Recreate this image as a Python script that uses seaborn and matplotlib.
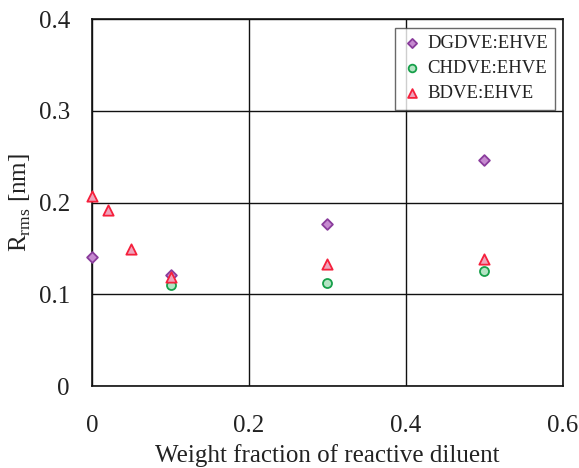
import matplotlib
matplotlib.use("Agg")
import matplotlib.pyplot as plt
import seaborn as sns
import pandas as pd

# Data
dg_x = [0.0, 0.1, 0.3, 0.5]
dg_y = [0.141, 0.121, 0.177, 0.246]
ch_x = [0.1, 0.3, 0.5]
ch_y = [0.110, 0.112, 0.125]
bd_x = [0.0, 0.02, 0.05, 0.1, 0.3, 0.5]
bd_y = [0.207, 0.192, 0.149, 0.119, 0.133, 0.139]
series_names = ["DGDVE:EHVE", "CHDVE:EHVE", "BDVE:EHVE"]
x_ticks = [0, 0.2, 0.4, 0.6]
x_tick_labels = ["0", "0.2", "0.4", "0.6"]
y_ticks = [0, 0.1, 0.2, 0.3, 0.4]
y_tick_labels = ["0", "0.1", "0.2", "0.3", "0.4"]

df = pd.concat([
    pd.DataFrame({"x": dg_x, "y": dg_y, "s": series_names[0]}),
    pd.DataFrame({"x": ch_x, "y": ch_y, "s": series_names[1]}),
    pd.DataFrame({"x": bd_x, "y": bd_y, "s": series_names[2]}),
])

sns.set_style("white")
plt.rcParams['font.family'] = ['Liberation Serif', 'DejaVu Serif']
plt.rcParams['mathtext.fontset'] = 'custom'
plt.rcParams['mathtext.rm'] = 'Liberation Serif'

fig = plt.figure(figsize=(5.79, 4.68), dpi=100)
ax = fig.add_axes([0.159, 0.175, 0.813, 0.784])

edge = {series_names[0]: "#8a3c9c", series_names[1]: "#17a04a", series_names[2]: "#f5203c"}
face = {series_names[0]: "#c68ad0", series_names[1]: "#b4e4c4", series_names[2]: "#eea4bc"}
marks = {series_names[0]: "D", series_names[1]: "o", series_names[2]: "^"}
sizes = {series_names[0]: 30, series_names[1]: 42, series_names[2]: 55}

for name in series_names:
    sub = df[df["s"] == name]
    sns.scatterplot(data=sub, x="x", y="y", ax=ax, marker=marks[name],
                    s=sizes[name], color=face[name], edgecolor=edge[name],
                    linewidth=1.3, label=name, zorder=3, clip_on=False)

ax.set_xlim(0, 0.6)
ax.set_ylim(0, 0.4)
ax.set_xticks(x_ticks)
ax.set_xticklabels(x_tick_labels)
ax.set_yticks(y_ticks)
ax.set_yticklabels(y_tick_labels)
ax.tick_params(axis='x', length=0, pad=21, labelsize=18, colors='#222222')
ax.tick_params(axis='y', length=0, pad=16, labelsize=18, colors='#222222')
ax.grid(True, color='#111111', linewidth=1.0)
ax.set_axisbelow(True)
for sp in ax.spines.values():
    sp.set_color('#111111')
    sp.set_linewidth(1.2)
    sp.set_visible(True)

ax.set_xlabel("Weight fraction of reactive diluent", fontsize=18, color='#222222', labelpad=5)
ax.set_ylabel(r"R$_{\mathrm{rms}}$ [nm]", fontsize=18, color='#222222', labelpad=4)

leg = ax.legend(loc='upper right', bbox_to_anchor=(0.984, 0.977), borderaxespad=0,
                fontsize=13.5, frameon=True, fancybox=False, edgecolor='#444444',
                handletextpad=0.3, borderpad=0.4, labelspacing=0.42, handlelength=1.0,
                markerscale=0.85)
leg.get_frame().set_linewidth(1.0)
for t in leg.get_texts():
    t.set_color('#222222')

fig.savefig("out.png", dpi=100)
